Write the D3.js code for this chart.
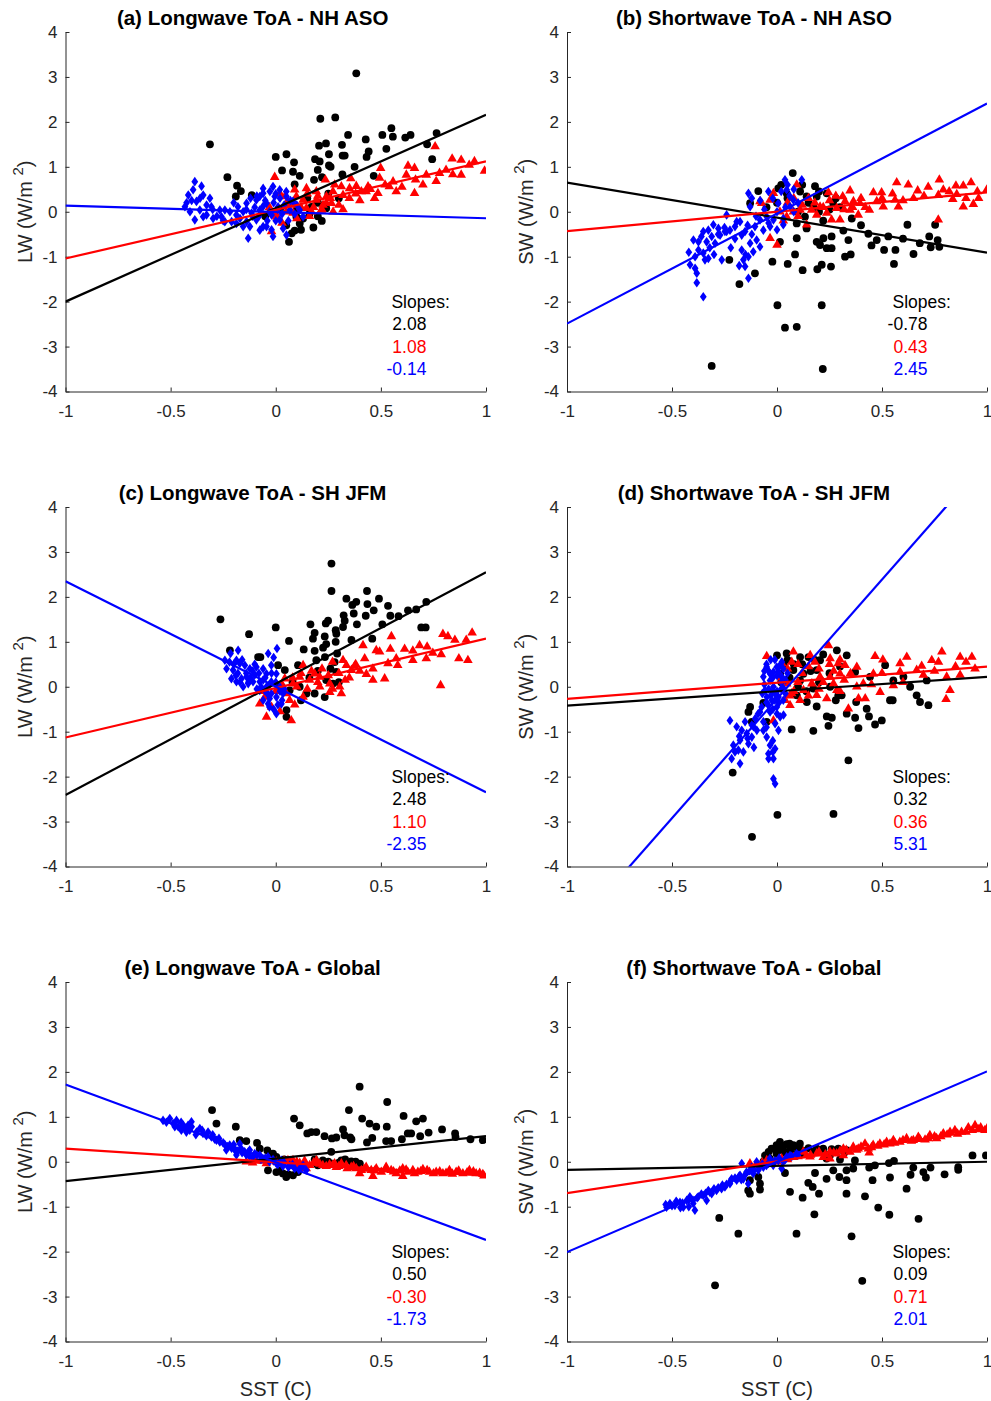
<!DOCTYPE html>
<html>
<head>
<meta charset="utf-8">
<script src="https://cdn.jsdelivr.net/npm/d3@7"></script>
<style>
  body { margin: 0; background: #fff; }
  svg text { font-family: "Liberation Sans", Arial, Helvetica, sans-serif; }
</style>
</head>
<body>
<div id="vis"></div>
<script>
// values
var titles = ["(a) Longwave ToA - NH ASO", "(b) Shortwave ToA - NH ASO",
              "(c) Longwave ToA - SH JFM", "(d) Shortwave ToA - SH JFM",
              "(e) Longwave ToA - Global", "(f) Shortwave ToA - Global"];
var yNames = ["LW", "SW", "LW", "SW", "LW", "SW"];
var xTicks = [-1, -0.5, 0, 0.5, 1];
var yTicks = [-4, -3, -2, -1, 0, 1, 2, 3, 4];

// slopes [black, red, blue] per panel, and fitted intercepts
var slopes = [[2.08, 1.08, -0.14], [-0.78, 0.43, 2.45], [2.48, 1.10, -2.35],
              [0.32, 0.36, 5.31], [0.50, -0.30, -1.73], [0.09, 0.71, 2.01]];
var intercepts = [[0.08, 0.04, -0.005], [-0.13, 0.0, -0.04], [0.07, -0.03, 0.0],
                  [-0.1, 0.09, -0.27], [0.07, -0.01, -0.01], [-0.09, 0.01, 0.0]];

// panel (a)
var aBlack = [[-0.313,1.50],[-0.23,0.77],[-0.184,0.58],[-0.166,0.46],[-0.19,0.34],[-0.114,0.37],[0.0,1.22],[0.051,1.28],[0.03,0.92],[0.087,1.10],[0.082,0.89],[0.114,0.80],[0.09,0.61],[0.212,2.07],[0.283,2.10],[0.344,1.71],[0.239,1.52],[0.206,1.47],[0.315,1.49],[0.187,1.17],[0.209,1.12],[0.253,1.28],[0.318,1.25],[0.328,1.25],[0.253,1.03],[0.261,1.0],[0.20,0.93],[0.22,0.77],[0.182,0.71],[0.317,0.83],[0.375,1.0],[0.428,1.61],[0.442,1.34],[0.432,1.22],[0.507,1.71],[0.55,1.86],[0.557,1.67],[0.526,1.40],[0.616,1.65],[0.641,1.71],[0.72,1.50],[0.765,1.75],[0.744,1.17],[0.466,0.80],[0.219,-0.205],[0.179,-0.35],[0.076,-0.48],[0.063,-0.67],[0.114,-0.26],[0.098,-0.11],[0.17,0.11],[0.24,0.08],[0.383,3.08],[0.05,-0.3],[0.12,-0.4],[0.15,0.3],[0.06,0.2],[-0.05,-0.1],[0.02,0.05],[0.2,0.2],[0.25,0.4],[0.3,0.3],[0.1,0.05],[0.13,-0.15],[0.16,-0.05],[0.09,-0.42],[0.2,-0.1],[0.23,0.15]];
var aRed = [[-0.005,0.77],[0.236,0.71],[0.357,0.74],[0.499,0.97],[0.629,1.02],[0.66,0.97],[0.758,1.45],[0.839,1.18],[0.882,1.15],[0.945,1.12],[0.993,0.91],[0.92,1.04],[0.842,0.83],[0.882,0.82],[0.763,0.68],[0.779,0.86],[0.665,0.71],[0.621,0.82],[0.558,0.67],[0.573,0.45],[0.66,0.41],[0.494,0.75],[0.439,0.56],[0.486,0.41],[0.407,0.45],[0.383,0.57],[0.351,0.52],[0.312,0.56],[0.32,0.37],[0.272,0.45],[0.241,0.34],[0.193,0.45],[0.146,0.52],[0.09,0.49],[0.098,0.34],[0.13,0.26],[0.193,0.26],[0.225,0.15],[0.265,0.19],[0.32,0.05],[0.273,0.0],[0.217,0.04],[0.17,0.0],[0.051,0.19],[0.019,0.41],[-0.02,-0.44],[0.003,-0.11],[0.082,-0.03],[0.146,0.08],[0.043,0.34],[0.43,0.45],[0.54,0.56],[0.716,0.82],[0.81,0.93],[0.05,0.0],[0.08,0.15],[0.12,0.1],[0.15,0.4],[0.18,0.1],[0.2,0.35],[0.22,0.05],[0.26,0.3],[0.28,0.6],[0.3,0.15],[0.35,0.3],[0.38,0.4],[0.4,0.25],[0.45,0.5],[0.47,0.3],[0.52,0.6],[0.6,0.55],[0.7,0.6],[0.1,-0.15],[0.03,-0.25],[-0.03,0.1],[0.0,-0.05],[0.16,-0.1],[0.24,0.2]];
var aBlue = [[-0.385,0.67],[-0.353,0.57],[-0.416,0.37],[-0.393,0.49],[-0.345,0.37],[-0.313,0.30],[-0.424,0.20],[-0.377,0.23],[-0.329,0.15],[-0.306,0.11],[-0.361,0.04],[-0.266,0.04],[-0.218,0.0],[-0.385,-0.18],[-0.345,-0.11],[-0.298,-0.15],[-0.242,-0.22],[-0.187,-0.07],[-0.187,-0.26],[-0.155,0.0],[-0.139,0.19],[-0.123,-0.33],[-0.131,-0.59],[-0.092,0.26],[-0.076,0.04],[-0.06,0.41],[-0.044,0.19],[-0.028,0.45],[-0.02,-0.07],[-0.013,-0.55],[-0.005,0.34],[0.011,0.11],[0.019,-0.18],[0.035,-0.37],[0.051,-0.52],[-0.092,-0.18],[-0.06,-0.33],[-0.115,-0.03],[-0.155,-0.33],[-0.21,-0.22],[-0.044,-0.33],[0.067,0.04],[0.082,0.23],[0.114,0.04],[0.13,-0.11],[0.051,0.34],[-0.076,0.34],[-0.06,0.52],[-0.013,0.56],[0.019,0.49],[-0.076,-0.41],[-0.139,-0.22],[-0.18,0.11],[-0.258,-0.11],[-0.242,0.04],[-0.329,-0.07],[-0.408,0.0],[-0.432,0.11],[-0.1,0.1],[-0.08,-0.1],[-0.05,0.25],[-0.03,0.0],[-0.01,0.2],[0.0,-0.2],[0.02,0.3],[0.03,-0.05],[0.04,0.15],[0.06,-0.2],[-0.11,-0.1],[-0.09,0.35],[-0.04,-0.2],[0.0,0.4],[0.07,0.25],[-0.02,-0.4],[-0.14,0.05],[-0.17,-0.15],[0.09,-0.05],[-0.06,0.12],[0.01,0.05],[-0.2,0.2],[-0.25,-0.2],[-0.3,0.05],[-0.28,-0.1],[-0.36,0.3],[-0.4,0.25],[0.1,0.15],[0.05,0.45],[-0.12,0.3]];

// panel (b)
var bBlack = [[0.075,0.86],[-0.089,0.46],[-0.128,0.19],[0.006,0.52],[0.046,0.41],[0.11,0.45],[0.141,0.34],[0.181,0.57],[0.189,0.34],[0.237,0.41],[0.268,0.19],[0.173,0.11],[0.133,-0.11],[0.094,-0.26],[0.141,-0.37],[0.014,-0.67],[0.094,-0.59],[0.189,-0.67],[0.221,-0.59],[0.26,-0.55],[0.205,-0.74],[0.237,-0.81],[0.26,-0.81],[0.34,-0.63],[0.324,-1.0],[0.351,-0.95],[0.316,-0.42],[0.356,-0.15],[0.086,-0.95],[0.051,-1.16],[-0.022,-1.11],[0.122,-1.30],[0.192,-1.28],[0.213,-1.18],[0.257,-1.22],[-0.105,-1.37],[-0.179,-1.61],[-0.227,-1.07],[0.435,-0.49],[0.475,-0.63],[0.53,-0.55],[0.51,-0.85],[0.564,-0.85],[0.557,-1.16],[0.621,-0.29],[0.65,-0.94],[0.725,-0.55],[0.732,-0.79],[0.765,-0.63],[0.773,-0.78],[0.753,-0.29],[0.002,-2.08],[0.213,-2.08],[0.038,-2.58],[0.094,-2.56],[-0.311,-3.43],[0.218,-3.50],[0.0,0.2],[0.1,0.0],[0.05,0.3],[0.15,0.2],[0.2,0.0],[-0.05,0.1],[0.25,0.05],[0.02,0.6],[0.12,0.6],[0.2,0.45],[0.28,0.3],[0.3,0.1],[0.22,-0.2],[0.4,-0.3],[0.45,-0.75],[0.6,-0.6],[0.68,-0.7]];
var bRed = [[-0.073,0.19],[-0.017,0.41],[-0.033,0.26],[0.094,0.60],[0.245,0.43],[0.313,0.34],[0.348,0.47],[0.459,0.43],[0.498,0.43],[0.57,0.65],[0.625,0.6],[0.67,0.47],[0.773,0.71],[0.792,0.49],[0.852,0.58],[0.887,0.58],[0.924,0.65],[0.954,0.45],[0.999,0.49],[0.856,0.39],[0.837,0.28],[0.887,0.11],[0.935,0.17],[0.768,0.37],[0.562,0.26],[0.578,0.11],[0.506,0.11],[0.44,0.04],[0.475,0.23],[0.395,0.19],[0.364,0.23],[0.324,0.23],[0.284,0.08],[0.3,-0.18],[0.26,-0.18],[0.237,-0.03],[0.189,-0.07],[0.205,0.11],[0.165,0.04],[0.11,0.04],[0.078,0.0],[0.046,-0.11],[0.141,-0.29],[0.0,-0.74],[-0.033,-0.59],[0.768,-0.18],[0.387,-0.07],[0.348,0.04],[0.014,0.0],[-0.081,0.23],[0.05,0.2],[0.08,0.3],[0.12,0.15],[0.15,0.3],[0.18,0.2],[0.22,0.1],[0.25,0.25],[0.28,0.35],[0.32,0.05],[0.36,0.1],[0.4,0.3],[0.42,0.1],[0.5,0.3],[0.55,0.4],[0.6,0.25],[0.65,0.3],[0.7,0.35],[0.72,0.55],[0.82,0.45],[0.9,0.3],[0.96,0.3],[0.03,-0.2],[0.1,-0.1]];
var bBlue = [[-0.136,0.41],[-0.12,0.30],[-0.128,0.11],[-0.041,0.45],[0.038,0.71],[0.118,0.71],[0.046,0.49],[0.006,0.19],[-0.049,-0.11],[-0.033,-0.33],[-0.065,-0.41],[-0.017,-0.18],[0.03,-0.29],[0.062,0.11],[0.078,0.26],[-0.081,-0.18],[-0.105,-0.33],[-0.097,-0.63],[-0.081,-0.78],[-0.113,-0.89],[-0.136,-1.0],[-0.152,-1.22],[-0.136,-1.48],[-0.16,-1.07],[-0.168,-0.85],[-0.128,-0.70],[-0.168,-0.52],[-0.2,-0.33],[-0.176,-0.22],[-0.24,-0.07],[-0.192,-0.22],[-0.224,-0.41],[-0.248,-0.44],[-0.271,-0.52],[-0.303,-0.29],[-0.327,-0.41],[-0.351,-0.44],[-0.311,-0.55],[-0.295,-0.70],[-0.335,-0.67],[-0.374,-0.67],[-0.398,-0.63],[-0.374,-0.85],[-0.351,-0.92],[-0.327,-1.04],[-0.343,-1.07],[-0.39,-1.0],[-0.414,-1.18],[-0.39,-1.26],[-0.382,-1.37],[-0.382,-1.58],[-0.351,-1.89],[-0.263,-1.07],[-0.24,-0.44],[-0.152,-0.44],[-0.279,-0.37],[-0.02,0.3],[0.0,0.0],[0.02,0.45],[0.04,0.1],[0.06,0.35],[0.08,0.5],[0.1,0.2],[-0.06,0.05],[-0.08,0.25],[-0.04,-0.25],[0.0,-0.4],[0.03,-0.15],[0.05,0.6],[0.08,0.0],[-0.1,-0.1],[-0.12,-0.5],[-0.14,-0.3],[-0.2,-0.6],[-0.22,-0.8],[-0.28,-0.5],[-0.32,-0.8],[-0.36,-0.55],[-0.42,-0.9],[-0.3,-0.95],[-0.18,-1.2],[-0.15,-0.95],[-0.25,-0.35]];

// panel (c)
var cBlack = [[0.265,2.74],[-0.263,1.50],[-0.127,1.17],[0.0,1.32],[0.063,1.02],[-0.218,0.81],[-0.084,0.66],[-0.073,0.66],[0.011,0.48],[0.265,2.13],[0.434,2.13],[0.336,1.96],[0.383,1.89],[0.364,1.82],[0.436,1.84],[0.491,1.96],[0.534,1.80],[0.466,1.70],[0.371,1.63],[0.428,1.58],[0.545,1.58],[0.584,1.57],[0.629,1.70],[0.668,1.72],[0.716,1.89],[0.323,1.59],[0.328,1.47],[0.249,1.47],[0.238,1.41],[0.165,1.39],[0.386,1.39],[0.507,1.39],[0.32,1.33],[0.285,1.26],[0.288,1.18],[0.185,1.2],[0.177,1.07],[0.233,1.12],[0.285,1.0],[0.24,0.95],[0.225,0.87],[0.36,1.04],[0.459,1.07],[0.133,0.83],[0.185,0.8],[0.234,0.66],[0.292,0.74],[0.193,0.59],[0.28,0.55],[0.692,1.32],[0.713,1.32],[0.106,0.48],[0.043,0.37],[0.146,-0.15],[0.185,-0.15],[0.233,-0.23],[0.051,-0.52],[0.051,-0.67],[0.272,0.07],[0.288,0.33],[0.24,0.15],[0.114,0.0],[0.066,-0.08],[0.019,0.0],[0.08,0.1],[0.12,-0.3],[0.2,0.35],[0.26,0.4],[0.3,0.1],[0.16,0.2]];
var cRed = [[0.185,0.29],[0.13,0.48],[0.32,0.59],[0.336,0.48],[0.415,0.92],[0.478,0.81],[0.494,0.78],[0.55,1.12],[0.545,0.84],[0.613,0.84],[0.652,0.80],[0.684,0.92],[0.72,0.89],[0.795,1.17],[0.819,1.12],[0.852,1.04],[0.906,1.04],[0.934,1.2],[0.787,0.72],[0.747,0.75],[0.716,0.63],[0.652,0.59],[0.573,0.63],[0.58,0.48],[0.534,0.52],[0.462,0.40],[0.423,0.63],[0.375,0.46],[0.36,0.37],[0.431,0.28],[0.462,0.15],[0.518,0.18],[0.784,0.03],[0.871,0.63],[0.914,0.59],[0.304,0.0],[0.312,-0.15],[0.257,0.07],[0.209,0.22],[0.161,0.15],[0.114,0.22],[0.082,0.07],[0.043,0.18],[0.13,-0.23],[0.066,-0.3],[-0.044,-0.67],[0.074,-0.75],[-0.052,-0.23],[-0.076,-0.38],[0.209,0.0],[0.257,-0.12],[0.0,-0.1],[0.03,0.05],[0.05,-0.15],[0.08,0.2],[0.1,0.0],[0.12,0.3],[0.15,-0.05],[0.17,0.35],[0.2,0.1],[0.22,0.4],[0.25,0.25],[0.27,-0.05],[0.3,0.3],[0.33,0.15],[0.35,0.2],[0.38,0.5],[0.4,0.35],[0.27,0.55],[-0.02,-0.45],[0.02,-0.55],[-0.06,-0.1],[0.09,-0.4]];
var cBlue = [[-0.234,0.40],[-0.215,0.74],[-0.179,0.81],[-0.187,0.59],[-0.203,0.37],[-0.187,0.11],[-0.163,0.18],[-0.147,0.48],[-0.123,0.40],[-0.1,0.26],[-0.108,0.11],[-0.076,0.11],[-0.036,0.74],[0.006,0.85],[-0.021,0.48],[-0.044,0.29],[0.003,0.29],[-0.044,0.0],[-0.021,-0.15],[-0.052,-0.08],[0.003,-0.23],[0.027,-0.38],[-0.036,-0.38],[0.003,-0.60],[-0.076,-0.08],[-0.139,0.22],[-0.211,0.18],[-0.242,0.59],[-0.171,0.52],[-0.092,0.44],[-0.06,0.15],[-0.021,0.11],[0.019,0.0],[0.035,-0.15],[-0.029,-0.26],[-0.06,-0.30],[-0.131,0.07],[-0.155,0.0],[-0.2,0.5],[-0.18,0.3],[-0.16,0.6],[-0.14,0.3],[-0.12,0.2],[-0.1,0.5],[-0.08,0.3],[-0.06,0.4],[-0.05,0.2],[-0.03,0.05],[-0.02,0.3],[0.0,0.1],[0.02,-0.1],[0.01,-0.4],[-0.01,-0.5],[0.03,-0.3],[-0.04,-0.15],[-0.07,0.0],[-0.09,-0.05],[-0.11,0.35],[-0.13,0.1],[-0.17,0.1],[-0.19,0.25],[-0.22,0.55],[-0.01,0.65],[0.04,-0.05],[-0.03,-0.45]];

// panel (d)
var dBlack = [[0.0,0.70],[0.046,0.74],[0.11,0.66],[0.15,0.66],[0.205,0.59],[0.285,0.81],[0.332,0.70],[0.189,0.37],[0.078,0.37],[0.126,0.29],[0.015,0.29],[0.031,0.48],[0.515,0.48],[0.372,0.33],[0.443,0.22],[0.554,0.14],[0.602,0.22],[0.634,0.0],[0.713,0.14],[0.665,-0.19],[0.681,-0.34],[0.721,-0.41],[0.538,-0.30],[0.551,-0.30],[0.377,-0.34],[0.427,-0.49],[0.438,-0.66],[0.499,-0.75],[0.467,-0.84],[0.372,-0.69],[0.388,-0.92],[0.332,-0.60],[0.237,-0.66],[0.261,-0.69],[0.245,-0.87],[0.173,-0.98],[0.070,-0.95],[0.308,-0.19],[0.292,-0.19],[0.189,-0.44],[0.142,-0.34],[0.094,-0.19],[-0.065,-0.36],[-0.128,-0.45],[-0.136,-0.56],[-0.12,-0.78],[-0.049,-0.78],[0.34,-1.64],[-0.211,-1.91],[0.002,-2.85],[0.269,-2.83],[-0.119,-3.34],[0.173,-0.04],[0.253,0.0],[0.11,0.14],[0.05,0.6],[0.08,0.5],[0.12,0.5],[0.18,0.6],[0.22,0.72],[0.16,0.35],[0.1,0.0],[0.06,0.2],[0.2,0.1],[0.25,0.3],[0.3,0.45],[0.02,0.1],[0.14,-0.1],[0.28,-0.3]];
var dRed = [[-0.049,0.68],[0.023,0.52],[0.07,0.55],[0.078,0.78],[0.158,0.70],[0.245,0.92],[0.253,0.63],[0.292,0.52],[0.324,0.48],[0.3,0.29],[0.253,0.22],[0.205,0.22],[0.166,0.07],[0.126,-0.08],[0.07,-0.15],[0.039,-0.30],[0.062,-0.41],[0.11,-0.30],[0.189,-0.19],[0.237,-0.26],[0.269,0.07],[0.285,-0.08],[0.34,-0.49],[0.388,-0.26],[0.42,-0.26],[0.411,0.07],[0.459,0.29],[0.467,0.68],[0.504,0.60],[0.491,-0.12],[0.554,0.03],[0.586,0.33],[0.618,0.66],[0.689,0.46],[0.697,0.26],[0.737,0.59],[0.769,0.55],[0.785,0.78],[0.808,0.22],[0.824,-0.08],[0.805,-0.28],[0.872,0.66],[0.872,0.26],[0.928,0.66],[0.943,0.40],[0.586,0.52],[0.665,0.37],[0.38,0.44],[-0.017,-0.75],[0.046,0.07],[0.05,0.4],[0.1,0.5],[0.12,0.3],[0.15,0.45],[0.18,0.55],[0.2,0.4],[0.22,0.1],[0.25,0.5],[0.27,0.35],[0.3,0.6],[0.32,0.15],[0.35,0.3],[0.38,0.0],[0.2,-0.05],[0.15,-0.2],[0.08,-0.1],[0.1,0.1],[0.06,-0.2],[0.3,-0.1],[0.45,0.05],[0.5,0.3],[0.6,0.1],[0.75,0.35],[0.85,0.45],[0.9,0.55],[0.02,0.2]];
var dBlue = [[-0.033,0.29],[-0.033,0.14],[-0.017,0.0],[-0.009,-0.15],[-0.025,-0.30],[-0.049,-0.23],[0.007,-0.23],[-0.041,-0.41],[-0.001,-0.45],[-0.001,0.44],[0.023,0.55],[-0.065,0.22],[0.023,0.22],[-0.033,-0.56],[-0.081,-0.56],[-0.104,-0.71],[-0.065,-0.78],[-0.112,-0.89],[-0.096,-0.97],[-0.12,-1.12],[-0.168,-0.97],[-0.192,-0.89],[-0.224,-0.75],[-0.176,-1.19],[-0.208,-1.30],[-0.184,-1.41],[-0.16,-1.45],[-0.216,-1.60],[-0.176,-1.71],[-0.136,-1.27],[-0.049,-1.12],[-0.033,-1.30],[-0.041,-1.49],[-0.017,-1.60],[-0.009,-1.38],[0.007,-0.97],[-0.009,-0.82],[0.015,-0.67],[0.031,-0.63],[-0.017,-2.05],[-0.009,-2.16],[-0.152,-0.78],[-0.144,-1.04],[-0.065,-0.97],[-0.049,0.44],[-0.017,0.33],[0.007,0.33],[0.031,-0.04],[-0.057,-0.08],[-0.073,-0.45],[-0.05,0.5],[-0.03,0.6],[-0.01,0.6],[0.01,0.45],[0.03,0.4],[-0.04,0.35],[-0.02,0.2],[0.0,0.25],[0.02,0.1],[0.04,0.15],[-0.06,0.05],[-0.04,-0.05],[-0.02,-0.1],[0.0,-0.1],[0.02,-0.05],[0.04,-0.15],[-0.05,-0.35],[-0.03,-0.2],[-0.01,-0.3],[0.01,-0.35],[0.03,-0.3],[-0.02,-0.5],[0.0,-0.6],[-0.06,0.35],[0.05,0.3],[-0.07,-0.15],[-0.09,-0.6],[-0.12,-0.85],[-0.14,-1.15],[-0.18,-1.1],[-0.2,-1.45],[-0.05,-0.9],[-0.02,-1.2],[-0.04,-1.6],[-0.02,-1.45],[-0.11,-1.35]];

// panel (e)
var eBlack = [[-0.303,1.15],[-0.282,0.85],[-0.19,0.78],[-0.171,0.48],[-0.14,0.46],[-0.089,0.42],[-0.076,0.29],[-0.013,0.18],[0.003,0.11],[-0.037,-0.19],[0.003,-0.23],[0.034,-0.26],[0.05,-0.34],[0.082,-0.30],[0.106,-0.23],[0.087,0.96],[0.114,0.81],[0.15,0.63],[0.169,0.66],[0.193,0.66],[0.232,0.57],[0.267,0.52],[0.288,0.54],[0.32,0.72],[0.327,0.59],[0.354,0.54],[0.348,1.15],[0.399,1.67],[0.411,0.96],[0.446,0.85],[0.478,0.78],[0.459,0.53],[0.434,0.43],[0.525,0.46],[0.549,0.46],[0.53,1.33],[0.528,0.78],[0.608,1.02],[0.628,0.63],[0.644,0.63],[0.668,0.90],[0.7,0.96],[0.687,0.57],[0.727,0.65],[0.791,0.72],[0.853,0.63],[0.855,0.55],[0.926,0.50],[0.985,0.48],[0.264,0.22],[0.185,0.05],[0.224,0.03],[0.312,0.03],[0.359,0.01],[0.272,-0.04],[0.137,-0.12],[0.193,-0.04],[0.02,-0.2],[0.06,-0.28],[0.1,-0.15],[0.04,0.05],[-0.04,0.25],[0.2,-0.08],[0.25,0.0],[0.3,-0.02],[0.33,0.05],[0.38,0.0],[0.4,-0.04],[0.36,0.5],[0.6,0.5]];
var eRed = [[-0.14,0.0],[-0.092,0.02],[-0.045,-0.04],[0.003,0.0],[0.058,0.03],[0.082,0.03],[0.114,-0.03],[0.137,0.02],[0.161,-0.08],[0.193,0.03],[0.224,-0.08],[0.256,-0.06],[0.288,-0.12],[0.312,-0.04],[0.335,-0.08],[0.359,-0.12],[0.383,-0.15],[0.407,-0.19],[0.43,-0.12],[0.454,-0.19],[0.478,-0.15],[0.502,-0.23],[0.525,-0.12],[0.549,-0.19],[0.573,-0.26],[0.604,-0.15],[0.628,-0.23],[0.652,-0.19],[0.676,-0.23],[0.7,-0.17],[0.731,-0.23],[0.763,-0.23],[0.795,-0.26],[0.826,-0.19],[0.858,-0.23],[0.89,-0.26],[0.921,-0.19],[0.953,-0.26],[0.985,-0.28],[0.462,-0.32],[0.604,-0.32],[0.399,-0.26],[0.28,-0.04],[0.098,-0.08],[0.145,-0.15],[-0.11,-0.02],[-0.06,0.02],[0.02,-0.04],[0.04,0.02],[0.07,-0.02],[0.1,0.0],[0.18,-0.02],[0.21,-0.05],[0.24,-0.1],[0.27,-0.08],[0.3,-0.1],[0.34,-0.15],[0.37,-0.1],[0.42,-0.16],[0.47,-0.2],[0.52,-0.18],[0.56,-0.22],[0.59,-0.2],[0.62,-0.18],[0.66,-0.26],[0.69,-0.21],[0.72,-0.19],[0.75,-0.26],[0.78,-0.22],[0.81,-0.25],[0.84,-0.27],[0.87,-0.2],[0.91,-0.24],[0.94,-0.22],[0.97,-0.25],[0.99,-0.31]];
var eBlue = [[-0.536,0.92],[-0.504,0.96],[-0.488,0.85],[-0.472,0.92],[-0.464,0.78],[-0.44,0.81],[-0.425,0.66],[-0.401,0.89],[-0.409,0.70],[-0.377,0.66],[-0.346,0.63],[-0.322,0.66],[-0.306,0.55],[-0.282,0.48],[-0.266,0.44],[-0.243,0.39],[-0.219,0.37],[-0.195,0.26],[-0.187,0.15],[-0.164,0.29],[-0.148,0.22],[-0.124,0.26],[-0.124,0.12],[-0.1,0.18],[-0.076,0.15],[-0.061,0.07],[-0.037,0.11],[-0.013,0.05],[0.003,-0.04],[0.026,0.03],[0.034,-0.10],[0.066,-0.08],[0.09,-0.15],[0.122,-0.12],[0.145,-0.19],[-0.417,0.81],[-0.449,0.70],[-0.361,0.74],[-0.235,0.26],[-0.171,0.40],[-0.52,0.88],[-0.48,0.78],[-0.45,0.88],[-0.43,0.75],[-0.4,0.78],[-0.38,0.6],[-0.35,0.7],[-0.33,0.58],[-0.3,0.6],[-0.29,0.5],[-0.27,0.52],[-0.25,0.42],[-0.23,0.34],[-0.21,0.3],[-0.2,0.38],[-0.18,0.24],[-0.16,0.2],[-0.14,0.15],[-0.13,0.22],[-0.11,0.1],[-0.09,0.15],[-0.07,0.05],[-0.05,0.08],[-0.03,0.0],[-0.01,0.02],[0.01,-0.06],[0.04,-0.02],[0.06,-0.12],[0.08,-0.06],[0.11,-0.18],[0.13,-0.08]];

// panel (f)
var fBlack = [[-0.057,0.14],[-0.026,0.29],[-0.002,0.37],[0.022,0.26],[0.046,0.39],[0.078,0.37],[0.101,0.29],[0.125,0.18],[-0.002,0.18],[-0.034,0.07],[-0.065,0.0],[-0.129,-0.41],[-0.137,-0.64],[-0.129,-0.71],[-0.081,-0.49],[-0.081,-0.62],[-0.089,-0.34],[-0.275,-1.25],[-0.184,-1.60],[-0.295,-2.75],[0.093,-1.60],[0.038,-0.25],[0.062,-0.67],[0.122,-0.80],[0.149,-0.47],[0.17,-0.56],[0.178,-1.17],[0.2,-0.71],[0.181,-0.25],[0.236,-0.38],[0.268,-0.19],[0.297,-0.34],[0.331,-0.19],[0.331,-0.41],[0.363,-0.15],[0.331,-0.71],[0.355,-1.66],[0.406,-2.65],[0.419,-0.77],[0.439,-0.13],[0.455,-0.41],[0.466,-0.08],[0.482,-1.02],[0.533,-0.03],[0.538,-0.35],[0.535,-1.18],[0.557,0.02],[0.617,-0.60],[0.636,-0.29],[0.649,-0.13],[0.697,-0.23],[0.709,-0.35],[0.731,-0.13],[0.674,-1.27],[0.798,-0.28],[0.863,-0.12],[0.863,-0.18],[0.931,0.14],[0.995,0.14],[0.189,0.29],[0.22,0.29],[0.252,0.14],[0.284,0.26],[0.292,0.29],[0.331,0.26],[0.371,0.03],[0.236,0.07],[0.3,0.05],[0.07,0.18],[0.109,0.40],[0.014,0.44],[0.062,0.29],[0.0,0.28],[0.03,0.35],[0.06,0.4],[0.09,0.33],[0.12,0.25],[0.15,0.3],[0.17,0.22],[0.04,0.2],[-0.04,0.22],[0.2,0.25],[0.26,0.28],[0.32,0.2],[0.24,0.15]];
var fRed = [[-0.129,-0.04],[-0.049,0.03],[0.022,0.07],[0.078,0.10],[0.141,0.14],[0.189,0.18],[0.22,0.10],[0.252,0.22],[0.284,0.18],[0.316,0.29],[0.347,0.22],[0.363,0.33],[0.387,0.29],[0.419,0.40],[0.439,0.20],[0.458,0.37],[0.49,0.40],[0.522,0.44],[0.554,0.48],[0.585,0.44],[0.617,0.52],[0.649,0.48],[0.673,0.55],[0.705,0.49],[0.728,0.59],[0.76,0.52],[0.792,0.63],[0.824,0.66],[0.847,0.70],[0.879,0.66],[0.911,0.76],[0.943,0.81],[0.958,0.72],[0.99,0.70],[0.125,0.22],[0.157,0.11],[0.316,0.14],[0.379,0.26],[0.252,0.07],[0.538,0.40],[0.435,0.29],[-0.1,-0.06],[-0.07,-0.02],[0.0,0.0],[0.05,0.05],[0.1,0.12],[0.16,0.15],[0.2,0.22],[0.23,0.16],[0.27,0.2],[0.3,0.24],[0.33,0.26],[0.4,0.33],[0.45,0.32],[0.48,0.35],[0.51,0.38],[0.56,0.42],[0.6,0.48],[0.64,0.46],[0.68,0.5],[0.72,0.52],[0.75,0.56],[0.78,0.56],[0.81,0.6],[0.86,0.62],[0.9,0.66],[0.93,0.7],[0.97,0.76],[1.0,0.74]];
var fBlue = [[-0.526,-1.01],[-0.51,-0.93],[-0.486,-0.97],[-0.462,-0.90],[-0.446,-1.01],[-0.43,-0.86],[-0.415,-0.78],[-0.399,-0.93],[-0.391,-1.08],[-0.375,-0.78],[-0.351,-0.75],[-0.327,-0.64],[-0.311,-0.71],[-0.288,-0.64],[-0.264,-0.60],[-0.248,-0.56],[-0.224,-0.49],[-0.216,-0.38],[-0.192,-0.41],[-0.176,-0.30],[-0.16,-0.38],[-0.145,-0.23],[-0.137,-0.49],[-0.121,-0.12],[-0.113,-0.26],[-0.089,-0.19],[-0.065,-0.12],[-0.041,-0.04],[-0.018,-0.08],[0.006,0.03],[0.022,-0.15],[0.03,0.0],[0.046,0.11],[0.062,0.14],[0.093,0.18],[-0.168,-0.04],[-0.097,0.0],[-0.034,0.07],[-0.335,-0.86],[-0.478,-0.90],[-0.53,-0.95],[-0.5,-0.98],[-0.48,-0.88],[-0.45,-0.92],[-0.42,-0.85],[-0.4,-0.86],[-0.38,-0.8],[-0.36,-0.72],[-0.34,-0.7],[-0.32,-0.68],[-0.3,-0.6],[-0.28,-0.58],[-0.26,-0.52],[-0.24,-0.5],[-0.22,-0.42],[-0.2,-0.36],[-0.18,-0.32],[-0.17,-0.4],[-0.15,-0.28],[-0.13,-0.2],[-0.11,-0.18],[-0.09,-0.1],[-0.07,-0.05],[-0.05,-0.08],[-0.03,0.0],[-0.01,0.02],[0.01,0.08],[0.04,0.05],[0.07,0.12],[0.1,0.15],[-0.42,-1.0],[-0.46,-1.02]];

var blacks = [aBlack, bBlack, cBlack, dBlack, eBlack, fBlack];
var reds = [aRed, bRed, cRed, dRed, eRed, fRed];
var blues = [aBlue, bBlue, cBlue, dBlue, eBlue, fBlue];

var width = 991, height = 1401;
var colX = [[65.5, 486], [567, 987]];
var rowY = [32, 507, 982];
var plotH = 359.5;
var axisColor = "#262626";
var colors = ["#000000", "#ff0000", "#0000ff"];

var svg = d3.select("#vis").append("svg")
    .attr("width", width).attr("height", height);

var circle = d3.symbol().type(d3.symbolCircle).size(48)();
var triangle = d3.symbol().type(d3.symbolTriangle).size(40)();
var diamond = "M0,-4.8L3.4,0L0,4.8L-3.4,0Z";

titles.forEach(function(title, i) {
  var col = i % 2, row = Math.floor(i / 2);
  var x = d3.scaleLinear().domain([-1, 1]).range(colX[col]);
  var y = d3.scaleLinear().domain([-4, 4]).range([rowY[row] + plotH, rowY[row]]);
  var g = svg.append("g");

  g.append("clipPath").attr("id", "clip" + i)
    .append("rect")
    .attr("x", x(-1)).attr("y", y(4))
    .attr("width", x(1) - x(-1)).attr("height", y(-4) - y(4));

  // axes
  var yAxis = g.append("g")
      .attr("transform", "translate(" + x(-1) + ",0)")
      .call(d3.axisLeft(y).tickValues(yTicks).tickSizeInner(-4).tickSizeOuter(0).tickPadding(8).tickFormat(function(d) { return String(d); }));
  var xAxis = g.append("g")
      .attr("transform", "translate(0," + y(-4) + ")")
      .call(d3.axisBottom(x).tickValues(xTicks).tickSizeInner(-4).tickSizeOuter(0).tickPadding(13).tickFormat(function(d) { return String(d); }));
  [xAxis, yAxis].forEach(function(a) {
    a.selectAll("path, line").attr("stroke", axisColor).attr("stroke-width", 1);
    a.selectAll("text").attr("fill", axisColor)
      .style("font-size", "17px")
      .style("font-family", '"Liberation Sans", Arial, sans-serif');
  });

  // points
  var pts = g.append("g").attr("clip-path", "url(#clip" + i + ")");
  pts.selectAll(".k").data(blacks[i]).enter().append("path")
    .attr("d", circle).attr("fill", colors[0])
    .attr("transform", function(d) { return "translate(" + x(d[0]) + "," + y(d[1]) + ")"; });
  pts.selectAll(".r").data(reds[i]).enter().append("path")
    .attr("d", triangle).attr("fill", colors[1])
    .attr("transform", function(d) { return "translate(" + x(d[0]) + "," + y(d[1]) + ")"; });
  pts.selectAll(".b").data(blues[i]).enter().append("path")
    .attr("d", diamond).attr("fill", colors[2])
    .attr("transform", function(d) { return "translate(" + x(d[0]) + "," + y(d[1]) + ")"; });

  // fit lines
  var line = d3.line().x(function(d) { return x(d[0]); }).y(function(d) { return y(d[1]); });
  slopes[i].forEach(function(s, k) {
    var b = intercepts[i][k];
    pts.append("path")
      .attr("d", line([[-1, b - s], [1, b + s]]))
      .attr("fill", "none").attr("stroke", colors[k]).attr("stroke-width", 2.2);
  });

  // slopes text
  var tx = x(0.55);
  g.append("text").attr("x", tx).attr("y", y(-2)).attr("dy", "0.35em")
    .style("font-size", "17.5px").attr("fill", "#000").text("Slopes:");
  slopes[i].forEach(function(s, k) {
    g.append("text").attr("x", tx + 35).attr("y", y(-2.5 - 0.5 * k)).attr("dy", "0.35em")
      .attr("text-anchor", "end").style("font-size", "17.5px")
      .attr("fill", colors[k]).text(s.toFixed(2));
  });

  // title
  g.append("text").attr("x", x(-0.11)).attr("y", y(4) - 7)
    .attr("text-anchor", "middle").style("font-size", "20.5px").style("font-weight", "bold")
    .attr("fill", "#000").text(title);

  // y label
  var yl = g.append("text")
    .attr("transform", "translate(" + (x(-1) - 34) + "," + y(0) + ") rotate(-90)")
    .attr("text-anchor", "middle").style("font-size", "20px").attr("fill", axisColor);
  yl.append("tspan").text(yNames[i] + " (W/m ");
  yl.append("tspan").attr("dy", -9).style("font-size", "15px").text("2");
  yl.append("tspan").attr("dy", 9).text(")");

  // x label on the bottom row
  if (row === 2) {
    g.append("text").attr("x", x(0)).attr("y", y(-4) + 54)
      .attr("text-anchor", "middle").style("font-size", "20px").attr("fill", axisColor)
      .text("SST (C)");
  }
});
</script>
</body>
</html>
